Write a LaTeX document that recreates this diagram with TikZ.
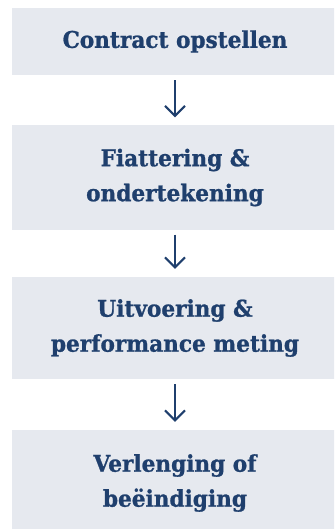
\documentclass[tikz,border=0pt]{standalone}
\usepackage{fontspec}
\newfontfamily\stagefont{DejaVu Serif Bold}[FakeStretch=0.94, FakeBold=1]
\usetikzlibrary{arrows.meta}
\definecolor{stageblue}{HTML}{1F3F6D}
\definecolor{stagefill}{HTML}{E6E9EF}
\begin{document}
\begin{tikzpicture}
  [x=1pt,y=1pt,
   stage/.style={rectangle, fill=stagefill, text=stageblue, minimum width=326pt, minimum height=104pt,
     align=center, font=\stagefont\fontsize{23}{35}\selectfont},
   flow/.style={stageblue, line width=2pt, -{Straight Barb[length=10pt,width=20pt]}, shorten <=5pt, shorten >=8pt}]
  \clip (0,0) rectangle (334,-529);
  \node[stage, minimum height=67pt] (contract) at (175,-41.5) {Contract opstellen};
  \node[stage] (fiat) at (175,-177.5) {Fiattering \&\\ondertekening};
  \node[stage, minimum height=102pt] (uitvoering) at (175,-328) {Uitvoering \&\\performance meting};
  \node[stage, minimum height=106pt] (verlenging) at (175,-483) {Verlenging of\\beëindiging};

  \draw[flow] (contract) -- (fiat);
  \draw[flow] (fiat) -- (uitvoering);
  \draw[flow] (uitvoering) -- (verlenging);
\end{tikzpicture}
\end{document}
